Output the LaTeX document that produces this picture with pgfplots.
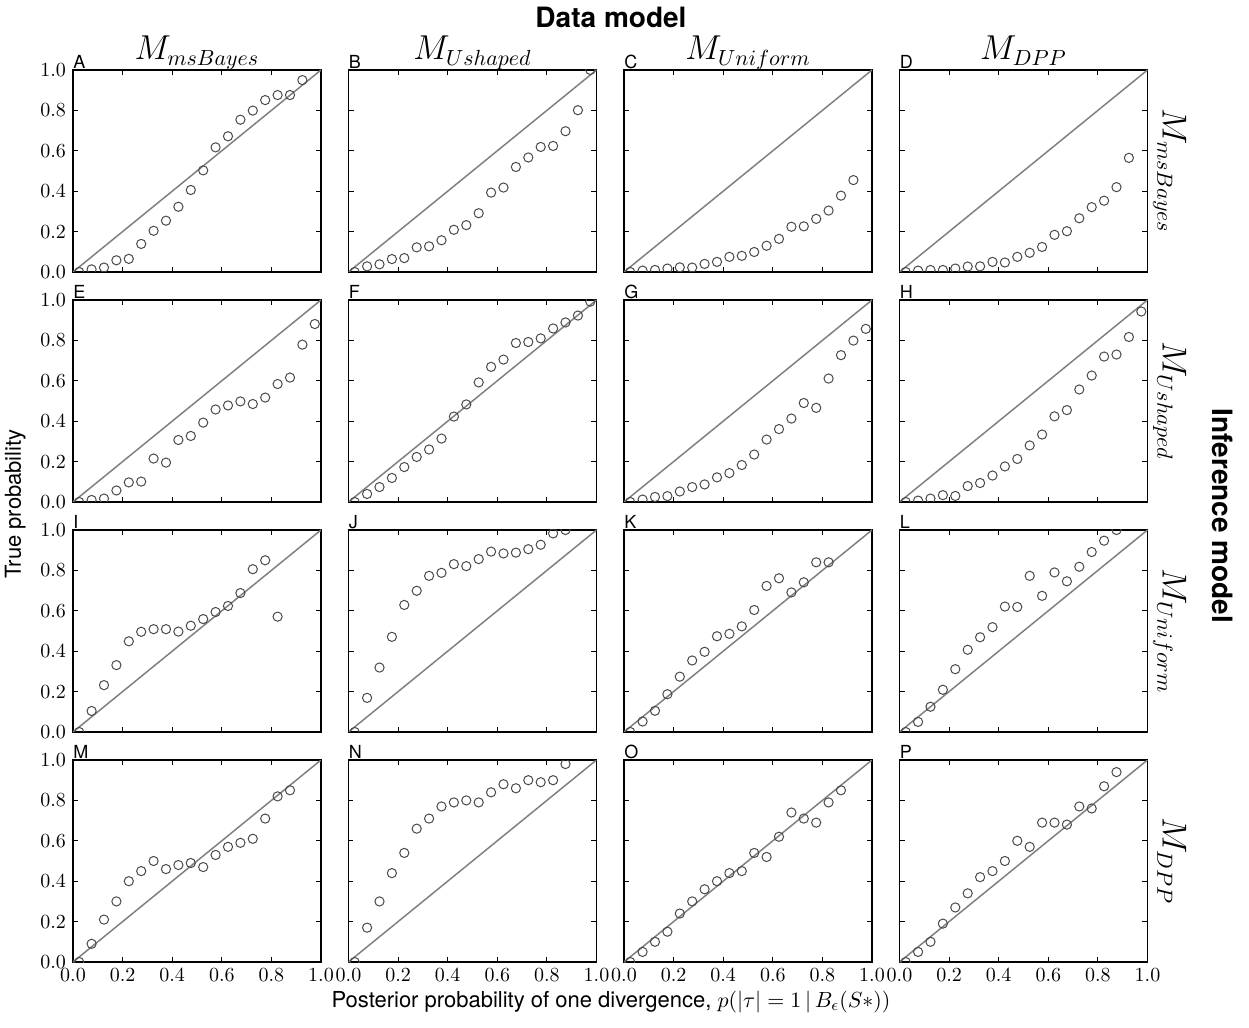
\documentclass[border=0pt]{standalone}
\usepackage{fontspec}
\setsansfont{TeX Gyre Heros}
\usepackage{pgfplots}
\pgfplotsset{compat=1.18}
\usepgfplotslibrary{groupplots}
\definecolor{diag}{HTML}{808080}
\definecolor{mk}{HTML}{4a4a4a}
\newcommand\panel[1]{%
  \nextgroupplot
  \addplot[diag, line width=0.75pt] coordinates {(0,0) (1,1)};
  \addplot[only marks, mark=o, mark size=2.3pt, mark options={mk, line width=0.5pt}] coordinates {#1};
}
\begin{document}
\begin{tikzpicture}
\begin{groupplot}[
  group style={group size=4 by 4, horizontal sep=13.75pt, vertical sep=14pt, group name=G,
    x descriptions at=edge bottom, y descriptions at=edge left},
  scale only axis, width=124pt, height=101pt,
  xmin=0, xmax=1, ymin=0, ymax=1,
  xtick={0,0.2,0.4,0.6,0.8,1}, ytick={0,0.2,0.4,0.6,0.8,1},
  tick align=inside, major tick length=2.5pt,
  xticklabel style={/pgf/number format/.cd, fixed, fixed zerofill, precision=1},
  yticklabel style={/pgf/number format/.cd, fixed, fixed zerofill, precision=1},
  tick label style={font=\fontsize{10}{12}\selectfont},
  axis line style={line width=0.8pt},
  tick style={black, line width=0.5pt},
  clip marker paths=true,
]
% Row 1
\panel{(0.025,0) (0.075,0.013) (0.125,0.022) (0.175,0.058) (0.225,0.065) (0.275,0.139) (0.325,0.204) (0.375,0.254) (0.425,0.323) (0.475,0.406) (0.525,0.503) (0.575,0.617) (0.625,0.672) (0.675,0.754) (0.725,0.799) (0.775,0.851) (0.825,0.876) (0.875,0.876) (0.925,0.95)}
\panel{(0.025,0) (0.075,0.028) (0.125,0.038) (0.175,0.064) (0.225,0.069) (0.275,0.122) (0.325,0.127) (0.375,0.157) (0.425,0.209) (0.475,0.232) (0.525,0.291) (0.575,0.393) (0.625,0.418) (0.675,0.52) (0.725,0.567) (0.775,0.619) (0.825,0.624) (0.875,0.697) (0.925,0.801) (0.975,1.0)}
\panel{(0.025,0) (0.075,0.007) (0.125,0.01) (0.175,0.017) (0.225,0.023) (0.275,0.022) (0.325,0.04) (0.375,0.05) (0.425,0.075) (0.475,0.08) (0.525,0.099) (0.575,0.13) (0.625,0.164) (0.675,0.224) (0.725,0.226) (0.775,0.263) (0.825,0.304) (0.875,0.378) (0.925,0.455)}
\panel{(0.025,0) (0.075,0.007) (0.125,0.01) (0.175,0.01) (0.225,0.017) (0.275,0.027) (0.325,0.028) (0.375,0.05) (0.425,0.047) (0.475,0.075) (0.525,0.095) (0.575,0.124) (0.625,0.184) (0.675,0.202) (0.725,0.266) (0.775,0.321) (0.825,0.353) (0.875,0.42) (0.925,0.565)}
% Row 2
\panel{(0.025,0) (0.075,0.01) (0.125,0.017) (0.175,0.057) (0.225,0.097) (0.275,0.101) (0.325,0.215) (0.375,0.195) (0.425,0.307) (0.475,0.327) (0.525,0.393) (0.575,0.458) (0.625,0.478) (0.675,0.498) (0.725,0.485) (0.775,0.517) (0.825,0.584) (0.875,0.616) (0.925,0.779) (0.975,0.881)}
\panel{(0.025,0) (0.075,0.04) (0.125,0.074) (0.175,0.119) (0.225,0.173) (0.275,0.223) (0.325,0.26) (0.375,0.314) (0.425,0.423) (0.475,0.483) (0.525,0.592) (0.575,0.669) (0.625,0.705) (0.675,0.787) (0.725,0.792) (0.775,0.81) (0.825,0.859) (0.875,0.889) (0.925,0.923) (0.975,0.992)}
\panel{(0.025,0) (0.075,0.012) (0.125,0.025) (0.175,0.029) (0.225,0.052) (0.275,0.074) (0.325,0.087) (0.375,0.122) (0.425,0.143) (0.475,0.183) (0.525,0.235) (0.575,0.309) (0.625,0.361) (0.675,0.413) (0.725,0.49) (0.775,0.466) (0.825,0.611) (0.875,0.727) (0.925,0.799) (0.975,0.857)}
\panel{(0.025,0) (0.075,0.007) (0.125,0.017) (0.175,0.034) (0.225,0.03) (0.275,0.079) (0.325,0.094) (0.375,0.131) (0.425,0.176) (0.475,0.213) (0.525,0.28) (0.575,0.334) (0.625,0.424) (0.675,0.455) (0.725,0.557) (0.775,0.626) (0.825,0.72) (0.875,0.73) (0.925,0.817) (0.975,0.943)}
% Row 3
\panel{(0.025,0) (0.075,0.104) (0.125,0.232) (0.175,0.331) (0.225,0.449) (0.275,0.496) (0.325,0.509) (0.375,0.509) (0.425,0.497) (0.475,0.526) (0.525,0.559) (0.575,0.594) (0.625,0.624) (0.675,0.688) (0.725,0.806) (0.775,0.85) (0.825,0.571)}
\panel{(0.025,0) (0.075,0.169) (0.125,0.319) (0.175,0.471) (0.225,0.629) (0.275,0.699) (0.325,0.773) (0.375,0.788) (0.425,0.831) (0.475,0.821) (0.525,0.856) (0.575,0.893) (0.625,0.884) (0.675,0.888) (0.725,0.905) (0.775,0.927) (0.825,0.983) (0.875,1.0)}
\panel{(0.025,0) (0.075,0.052) (0.125,0.105) (0.175,0.187) (0.225,0.274) (0.275,0.354) (0.325,0.397) (0.375,0.474) (0.425,0.486) (0.475,0.523) (0.525,0.604) (0.575,0.723) (0.625,0.761) (0.675,0.691) (0.725,0.741) (0.775,0.84) (0.825,0.84)}
\panel{(0.025,0) (0.075,0.05) (0.125,0.125) (0.175,0.209) (0.225,0.311) (0.275,0.407) (0.325,0.469) (0.375,0.519) (0.425,0.621) (0.475,0.619) (0.525,0.773) (0.575,0.674) (0.625,0.79) (0.675,0.746) (0.725,0.818) (0.775,0.891) (0.825,0.947) (0.875,1.0)}
% Row 4
\panel{(0.025,0) (0.075,0.09) (0.125,0.21) (0.175,0.30) (0.225,0.40) (0.275,0.45) (0.325,0.50) (0.375,0.46) (0.425,0.48) (0.475,0.49) (0.525,0.47) (0.575,0.53) (0.625,0.57) (0.675,0.59) (0.725,0.61) (0.775,0.71) (0.825,0.82) (0.875,0.85)}
\panel{(0.025,0) (0.075,0.17) (0.125,0.30) (0.175,0.44) (0.225,0.54) (0.275,0.66) (0.325,0.71) (0.375,0.77) (0.425,0.79) (0.475,0.80) (0.525,0.79) (0.575,0.84) (0.625,0.88) (0.675,0.86) (0.725,0.90) (0.775,0.89) (0.825,0.90) (0.875,0.98)}
\panel{(0.025,0) (0.075,0.05) (0.125,0.10) (0.175,0.15) (0.225,0.24) (0.275,0.30) (0.325,0.36) (0.375,0.40) (0.425,0.44) (0.475,0.45) (0.525,0.54) (0.575,0.52) (0.625,0.62) (0.675,0.74) (0.725,0.71) (0.775,0.69) (0.825,0.79) (0.875,0.85)}
\panel{(0.025,0) (0.075,0.05) (0.125,0.10) (0.175,0.19) (0.225,0.27) (0.275,0.34) (0.325,0.42) (0.375,0.45) (0.425,0.50) (0.475,0.60) (0.525,0.57) (0.575,0.69) (0.625,0.69) (0.675,0.68) (0.725,0.77) (0.775,0.76) (0.825,0.87) (0.875,0.94)}
\end{groupplot}
% panel letters
\foreach \c/\r/\l in {1/1/A,2/1/B,3/1/C,4/1/D,1/2/E,2/2/F,3/2/G,4/2/H,1/3/I,2/3/J,3/3/K,4/3/L,1/4/M,2/4/N,3/4/O,4/4/P}{
  \node[anchor=base west, inner sep=0pt, font=\sffamily\fontsize{9}{10}\selectfont] at ([yshift=0.6pt]G c\c r\r.north west) {\l};
}
% column titles
\node[anchor=base, inner sep=0pt, font=\fontsize{16}{18}\selectfont] at ([yshift=5pt]G c1r1.north) {$M_{msBayes}$};
\node[anchor=base, inner sep=0pt, font=\fontsize{16}{18}\selectfont] at ([yshift=5pt]G c2r1.north) {$M_{Ushaped}$};
\node[anchor=base, inner sep=0pt, font=\fontsize{16}{18}\selectfont] at ([yshift=5pt]G c3r1.north) {$M_{Uniform}$};
\node[anchor=base, inner sep=0pt, font=\fontsize{16}{18}\selectfont] at ([yshift=5pt]G c4r1.north) {$M_{DPP}$};
% row titles
\node[anchor=base, rotate=-90, inner sep=0pt, font=\fontsize{16}{18}\selectfont] at ([xshift=7.5pt]G c4r1.east) {$M_{msBayes}$};
\node[anchor=base, rotate=-90, inner sep=0pt, font=\fontsize{16}{18}\selectfont] at ([xshift=7.5pt]G c4r2.east) {$M_{Ushaped}$};
\node[anchor=base, rotate=-90, inner sep=0pt, font=\fontsize{16}{18}\selectfont] at ([xshift=7.5pt]G c4r3.east) {$M_{Uniform}$};
\node[anchor=base, rotate=-90, inner sep=0pt, font=\fontsize{16}{18}\selectfont] at ([xshift=7.5pt]G c4r4.east) {$M_{DPP}$};
\begin{scope}[shift={(G c1r1.north west)}]
  \node[anchor=base, inner sep=0pt, font=\sffamily\bfseries\fontsize{14}{16}\selectfont] at (269pt,21pt) {Data model};
  \node[anchor=base, rotate=-90, inner sep=0pt, font=\sffamily\bfseries\fontsize{14}{16}\selectfont] at (569.5pt,-223pt) {Inference model};
  \node[anchor=base, rotate=90, inner sep=0pt, font=\sffamily\fontsize{11}{13}\selectfont] at (-26pt,-217pt) {True probability};
  \node[anchor=base, inner sep=0pt, font=\sffamily\fontsize{11}{13}\selectfont] at (269pt,-468.5pt) {Posterior probability of one divergence, $p(|\tau|=1\,|\,B_{\epsilon}(S{*}))$};
  \pgfresetboundingbox
  \path (-36.5pt,35pt) rectangle (588pt,-479pt);
\end{scope}
\end{tikzpicture}
\end{document}
